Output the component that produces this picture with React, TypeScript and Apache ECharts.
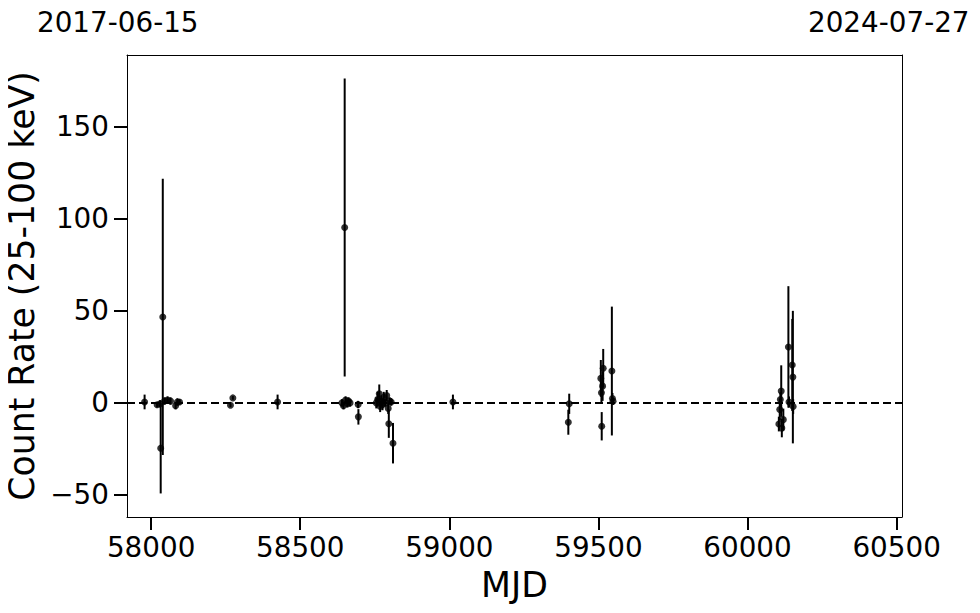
import React, { useEffect, useRef } from "react";
import * as echarts from "echarts";

const mjd = [
  57978, 58020, 58030, 58032, 58039, 58045, 58055, 58065, 58082, 58088, 58095,
  58266, 58274, 58424,
  58640, 58645, 58649, 58652, 58658, 58662, 58667, 58694, 58695,
  58755, 58760, 58765, 58768, 58772, 58776, 58780, 58785, 58790, 58795, 58797,
  58800, 58805, 58811,
  59012, 59399, 59402,
  59508, 59510, 59511, 59514, 59516, 59545, 59547, 59549,
  60105, 60108, 60110, 60113, 60115, 60120, 60137, 60139, 60150, 60152, 60153,
];
const rate = [
  0.5, -1, -0.5, -24.6, 46.7, 1, 1.5, 1, -1.5, 0.5, 0.5,
  -1.3, 2.7, 0.5,
  0, -1.5, 95.3, 1.5, -0.5, 1, 0, -0.9, -7.6,
  0, 2, 5, -2, 1, -1, 3, 0, 4, -3, -11.3,
  1, 0.5, -21.9,
  0.5, -10.5, -0.5,
  13.3, 5.5, -12.7, 9.1, 18.8, 17.3, 2.4, 0.9,
  -11.5, -3.6, 1.8, 6.4, -13.7, -9.1, 30.4, 0.5, 20.6, 14, -2,
];
const rateErr = [
  4, 1.5, 2, 24.6, 75, 2, 2, 2, 2, 2, 1.5,
  1, 1, 4,
  2, 2, 81, 2, 2, 2, 2, 2, 4.2,
  3, 4, 5, 3, 3, 3, 3, 2, 3, 3, 7.7,
  2, 2, 11,
  4, 6.8, 5.5,
  10, 6, 7.7, 8, 10.5, 35, 3, 2,
  4, 6, 4, 14, 5, 6, 33, 3, 25, 36, 4,
];
const xTicks = [58000, 58500, 59000, 59500, 60000, 60500];
const yTicks = [-50, 0, 50, 100, 150];
const xRange = [57919, 60518];
const yRange = [-62, 189];
const dateLabels = ["2017-06-15", "2024-07-27"];

const FONT = "DejaVu Sans";

export default function App() {
  const ref = useRef<HTMLDivElement>(null);
  useEffect(() => {
    if (!ref.current) return;
    const chart = echarts.init(ref.current, null, { renderer: "svg" });
    const pts = mjd.map((m, i) => [m, rate[i], rateErr[i]]);
    const frameAxis = {
      type: "value",
      axisLine: { show: true, onZero: false, lineStyle: { color: "#000", width: 1 } },
      axisTick: { show: false },
      axisLabel: { show: false },
      splitLine: { show: false },
    };
    chart.setOption({
      animation: false,
      backgroundColor: "#fff",
      grid: {
        left: 127,
        top: 55,
        right: 78,
        bottom: 96,
        show: false,
        containLabel: false,
        outerBoundsMode: "none",
      },
      graphic: [
        {
          type: "text",
          left: 118 - 81,
          top: 8,
          style: { text: dateLabels[0], font: `27.8px ${FONT}`, fill: "#000" },
        },
        {
          type: "text",
          left: 889 - 81,
          top: 8,
          style: { text: dateLabels[1], font: `27.8px ${FONT}`, fill: "#000" },
        },
      ],
      xAxis: [
        {
          type: "value",
          min: xRange[0],
          max: xRange[1],
          name: "MJD",
          nameLocation: "middle",
          nameGap: 50,
          nameTextStyle: { fontSize: 34.7, fontFamily: FONT, color: "#000" },
          axisLine: { show: true, onZero: false, lineStyle: { color: "#000", width: 1 } },
          axisTick: {
            show: true,
            length: 13,
            lineStyle: { color: "#000", width: 2 },
            customValues: xTicks,
          },
          axisLabel: {
            fontSize: 27.8,
            fontFamily: FONT,
            color: "#000",
            margin: 16,
            customValues: xTicks,
            formatter: (v: number) => String(v),
          },
          splitLine: { show: false },
        },
        { ...frameAxis, position: "top", min: xRange[0], max: xRange[1] },
      ],
      yAxis: [
        {
          type: "value",
          min: yRange[0],
          max: yRange[1],
          name: "Count Rate (25-100 keV)",
          nameLocation: "middle",
          nameGap: 78,
          nameTextStyle: { fontSize: 34.7, fontFamily: FONT, color: "#000" },
          axisLine: { show: true, onZero: false, lineStyle: { color: "#000", width: 1 } },
          axisTick: {
            show: true,
            length: 13,
            lineStyle: { color: "#000", width: 2 },
            customValues: yTicks,
          },
          axisLabel: {
            fontSize: 27.8,
            fontFamily: FONT,
            color: "#000",
            margin: 18,
            customValues: yTicks,
            formatter: (v: number) => (v < 0 ? "\u2212" + Math.abs(v) : String(v)),
          },
          splitLine: { show: false },
        },
        { ...frameAxis, position: "right", min: yRange[0], max: yRange[1] },
      ],
      series: [
        {
          type: "custom",
          data: pts,
          encode: { x: 0, y: 1 },
          z: 2,
          renderItem: (params: any, api: any) => {
            const x = api.value(0);
            const y = api.value(1);
            const e = api.value(2);
            const a = api.coord([x, y + e]);
            const b = api.coord([x, y - e]);
            return {
              type: "line",
              shape: { x1: a[0], y1: a[1], x2: b[0], y2: b[1] },
              style: { stroke: "#000", lineWidth: 2 },
            };
          },
        },
        {
          type: "scatter",
          data: pts.map((p) => [p[0], p[1]]),
          symbol: "circle",
          symbolSize: 7,
          itemStyle: { color: "#000" },
          z: 3,
          markLine: {
            silent: true,
            symbol: ["none", "none"],
            label: { show: false },
            lineStyle: { color: "#000", type: [8, 4], width: 2 },
            data: [{ yAxis: 0 }],
          },
        },
      ],
    });
    return () => chart.dispose();
  }, []);
  return <div ref={ref} style={{ width: 980, height: 613, margin: -8 }} />;
}
